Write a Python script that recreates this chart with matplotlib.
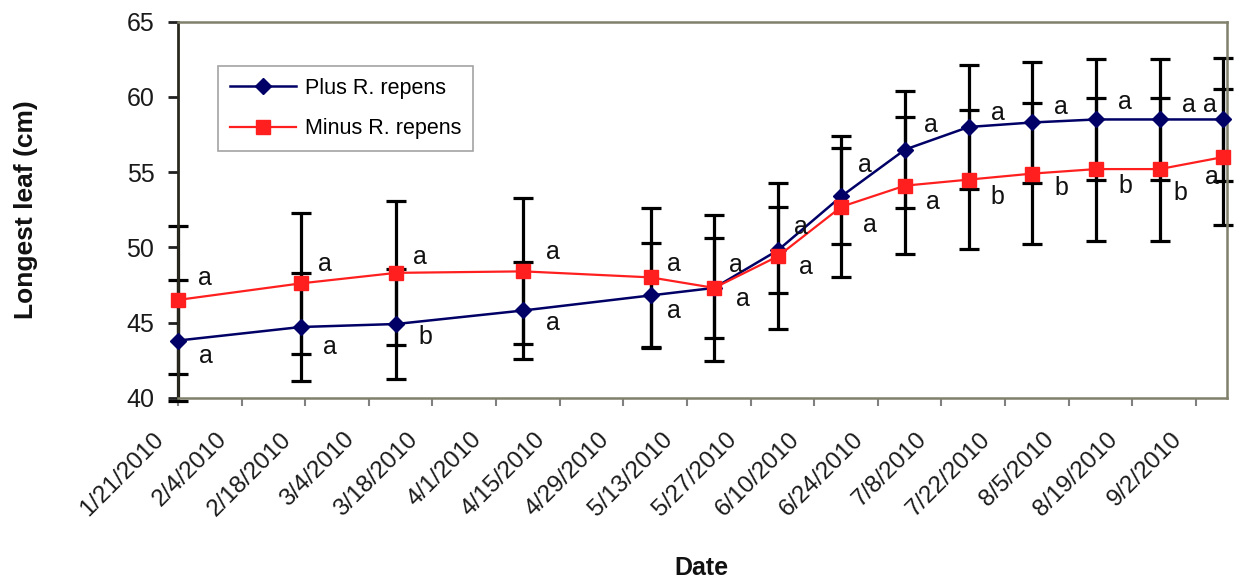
import matplotlib
matplotlib.use('Agg')
import matplotlib.pyplot as plt
import matplotlib.transforms as mtransforms
import datetime as dt

# ---------------- data ----------------
sample_dates = ['2010-01-21', '2010-02-17', '2010-03-10', '2010-04-07', '2010-05-05',
                '2010-05-19', '2010-06-02', '2010-06-16', '2010-06-30', '2010-07-14',
                '2010-07-28', '2010-08-11', '2010-08-25', '2010-09-08']
plus_mean = [43.8, 44.7, 44.9, 45.8, 46.8, 47.3, 49.8, 53.4, 56.5, 58.0, 58.3, 58.5, 58.5, 58.5]
plus_err = [4.0, 3.6, 3.65, 3.2, 3.5, 3.3, 2.85, 3.2, 3.9, 4.15, 4.0, 4.05, 4.05, 4.1]
minus_mean = [46.5, 47.6, 48.3, 48.4, 48.0, 47.3, 49.4, 52.7, 54.1, 54.5, 54.9, 55.2, 55.2, 56.0]
minus_err = [4.9, 4.7, 4.8, 4.85, 4.6, 4.85, 4.85, 4.7, 4.55, 4.6, 4.7, 4.75, 4.75, 4.5]
plus_letters = ['a', 'a', 'b', 'a', 'a', 'a', 'a', 'a', 'a', 'a', 'a', 'a', 'a', 'a']
minus_letters = ['a', 'a', 'a', 'a', 'a', 'a', 'a', 'a', 'a', 'b', 'b', 'b', 'b', 'a']
tick_labels = ['1/21/2010', '2/4/2010', '2/18/2010', '3/4/2010', '3/18/2010', '4/1/2010',
               '4/15/2010', '4/29/2010', '5/13/2010', '5/27/2010', '6/10/2010', '6/24/2010',
               '7/8/2010', '7/22/2010', '8/5/2010', '8/19/2010', '9/2/2010']
series_names = ['Plus R. repens', 'Minus R. repens']
x_range = ['2010-01-21', '2010-09-08 20:00']

# ---------------- label offsets (pixels) ----------------
plus_off = [(28, -15), (29, -20), (29, -13), (30, -13), (23, -16), (29, -11), (23, 23),
            (23, 31), (26, 25), (29, 14), (29, 15), (29, 17), (29, 14), (-13, 14)]
minus_off = [(27, 22), (24, 19), (24, 16), (30, 19), (23, 13), (22, 23), (28, -11),
             (28, -18), (28, -16), (29, -17), (29, -14), (29, -17), (21, -24), (-11, -20)]

plt.rcParams['font.family'] = ['Liberation Sans', 'DejaVu Sans']

W, H = 1238, 580
fig = plt.figure(figsize=(W / 100, H / 100), dpi=100)
ax = fig.add_axes([178 / W, 1 - 397.7 / H, 1049 / W, 376 / H])

x = [dt.datetime.strptime(d, '%Y-%m-%d') for d in sample_dates]
ticks = [dt.datetime.strptime(t, '%m/%d/%Y') for t in tick_labels]

blue = '#000066'
red = '#ff1f1f'

for means, errs in ((minus_mean, minus_err), (plus_mean, plus_err)):
    eb = ax.errorbar(x, means, yerr=errs, fmt='none', ecolor='black', elinewidth=2.3,
                     capsize=7.5, capthick=2.3, zorder=2)
    for art in list(eb.lines[1]) + list(eb.lines[2]):
        art.set_clip_on(False)

l1, = ax.plot(x, plus_mean, color=blue, lw=1.8, marker='D', ms=8.5, mfc=blue, mec=blue,
              clip_on=False, zorder=3, label=series_names[0])
l2, = ax.plot(x, minus_mean, color=red, lw=1.6, marker='s', ms=9.5, mfc=red, mec=red,
              clip_on=False, zorder=4, label=series_names[1])

for xi, yi, let, off in zip(x, plus_mean, plus_letters, plus_off):
    ax.annotate(let, (xi, yi), xytext=off, textcoords='offset pixels', ha='center',
                va='center', fontsize=18, color='#111111', zorder=5, annotation_clip=False)
for xi, yi, let, off in zip(x, minus_mean, minus_letters, minus_off):
    ax.annotate(let, (xi, yi), xytext=off, textcoords='offset pixels', ha='center',
                va='center', fontsize=18, color='#111111', zorder=5, annotation_clip=False)

ax.set_xlim(dt.datetime.strptime(x_range[0], '%Y-%m-%d'),
            dt.datetime.strptime(x_range[1], '%Y-%m-%d %H:%M'))
ax.set_ylim(40, 65)
ax.set_yticks([40, 45, 50, 55, 60, 65])
ax.set_xticks(ticks)
ax.set_xticklabels(tick_labels, rotation=45, ha='right', fontsize=17.5, color='#1a1a1a')

ax.tick_params(axis='y', direction='out', length=7, width=2, color='#202020',
               labelsize=18, pad=10, labelcolor='#1a1a1a')
ax.tick_params(axis='x', direction='out', length=6, width=1.5, color='#808080', pad=16)

shift = mtransforms.ScaledTranslation(-0.10, 0, fig.dpi_scale_trans)
for lab in ax.get_xticklabels():
    lab.set_transform(lab.get_transform() + shift)

for side in ('top', 'right', 'bottom'):
    ax.spines[side].set_color('#80806c')
    ax.spines[side].set_linewidth(1.8)
ax.spines['left'].set_color('#2a2a20')
ax.spines['left'].set_linewidth(2)

leg = ax.legend(handles=[l1, l2], loc='upper left',
                bbox_to_anchor=(218 / W, 1 - 66 / H), bbox_transform=fig.transFigure,
                borderaxespad=0, frameon=True, fancybox=False, shadow=False,
                fontsize=15.5, handlelength=3.05, handletextpad=0.45, borderpad=0.55,
                labelspacing=0.9)
leg.get_frame().set_edgecolor('#8c8c8c')
leg.get_frame().set_linewidth(1.2)

fig.text(26 / W, 1 - 210 / H, 'Longest leaf (cm)', rotation=90, ha='center', va='center',
         fontsize=19, fontweight='bold', color='#111111')
fig.text(701 / W, 1 - 568 / H, 'Date', ha='center', va='center', fontsize=18,
         fontweight='bold', color='#111111')

fig.savefig('out.png', dpi=100, facecolor='white')
